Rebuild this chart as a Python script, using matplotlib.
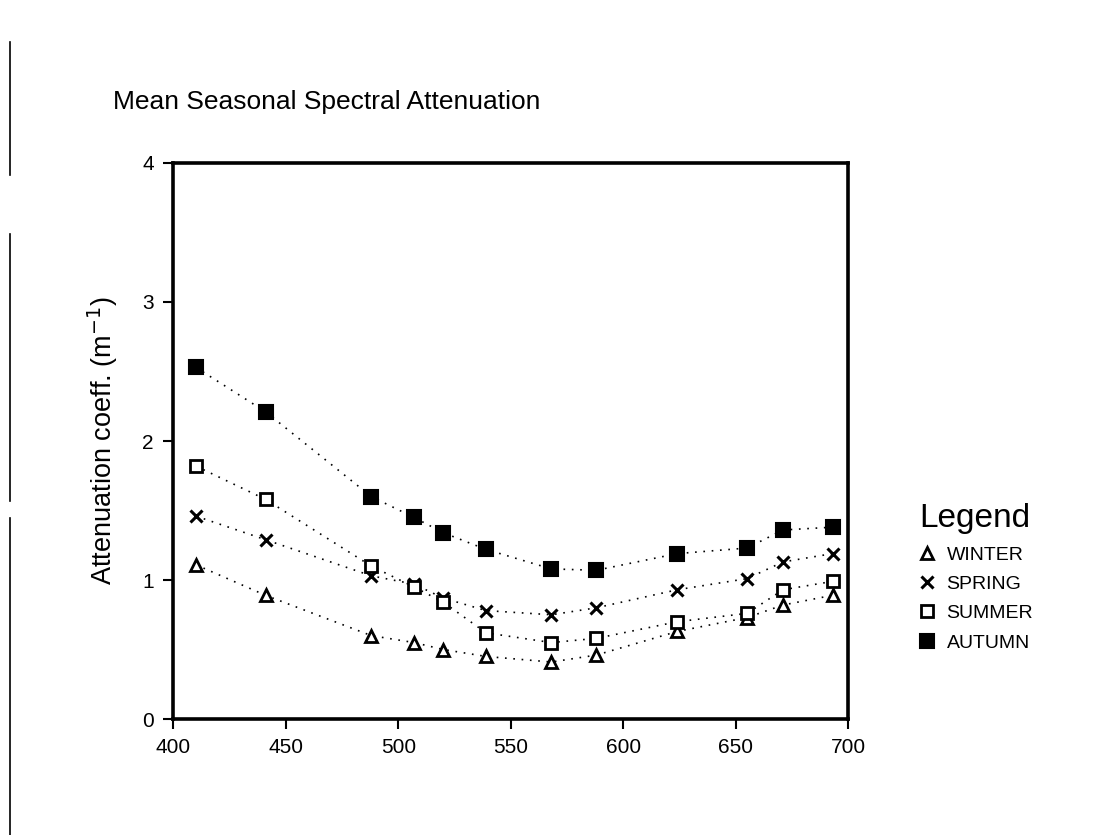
import matplotlib
matplotlib.use("Agg")
import matplotlib.pyplot as plt
from matplotlib.lines import Line2D

# Wavelength channels (nm)
wavelength = [410, 441, 488, 507, 520, 539, 568, 588, 624, 655, 671, 693]

# Mean attenuation coefficient per season (m^-1)
winter = [1.11, 0.89, 0.60, 0.55, 0.50, 0.45, 0.41, 0.46, 0.63, 0.73, 0.82, 0.89]
spring = [1.46, 1.29, 1.03, 0.97, 0.87, 0.78, 0.75, 0.80, 0.93, 1.01, 1.13, 1.19]
summer = [1.82, 1.58, 1.10, 0.95, 0.84, 0.62, 0.55, 0.58, 0.70, 0.76, 0.93, 0.99]
autumn = [2.53, 2.21, 1.60, 1.45, 1.34, 1.22, 1.08, 1.07, 1.19, 1.23, 1.36, 1.38]

season_names = ["WINTER", "SPRING", "SUMMER", "AUTUMN"]
x_ticks = [400, 450, 500, 550, 600, 650, 700]
y_ticks = [0, 1, 2, 3, 4]

FONT = ["Liberation Sans Narrow", "Liberation Sans", "DejaVu Sans"]
plt.rcParams["font.family"] = FONT

fig = plt.figure(figsize=(10.97, 8.35), dpi=100)
ax = fig.add_axes([0.158, 0.1389, 0.6153, 0.6659])

styles = [
    dict(marker="^", mfc="white", mec="black", ms=9, mew=2.0),
    dict(marker="x", mfc="black", mec="black", ms=9, mew=2.2),
    dict(marker="s", mfc="white", mec="black", ms=9, mew=2.0),
    dict(marker="s", mfc="black", mec="black", ms=10, mew=1.5),
]
series = [winter, spring, summer, autumn]

for vals, st in zip(series, styles):
    ax.plot(wavelength, vals, linestyle=(0, (1, 4)), color="black", lw=1.2, **st)

ax.set_xlim(400, 700)
ax.set_ylim(0, 4)
ax.set_xticks(x_ticks)
ax.set_yticks(y_ticks)
ax.tick_params(axis="both", direction="out", length=7, width=1.5,
               labelsize=15, pad=7)
for sp in ax.spines.values():
    sp.set_linewidth(2.6)

ax.set_ylabel("Attenuation coeff. (m$^{-1}$)", fontsize=19.5, labelpad=16)

fig.text(0.103, 0.878, "Mean Seasonal Spectral Attenuation", fontsize=19,
         ha="left", va="center")

# Legend built from the same marker styles
handles = [Line2D([], [], linestyle="none", color="black", **st) for st in styles]
leg = fig.legend(handles, season_names, loc="upper left",
                 bbox_to_anchor=(0.822, 0.418), frameon=False,
                 title="Legend", title_fontsize=24, fontsize=14,
                 handlelength=0.8, handletextpad=0.6, labelspacing=0.6,
                 alignment="left")

# Scanned page edge on the left margin
for y0, y1 in [(0.79, 0.95), (0.40, 0.72), (0.0, 0.38)]:
    fig.add_artist(Line2D([0.0095, 0.0095], [y0, y1], color="black", lw=1.2,
                          transform=fig.transFigure))

fig.savefig("out.png", dpi=100, facecolor="white")
